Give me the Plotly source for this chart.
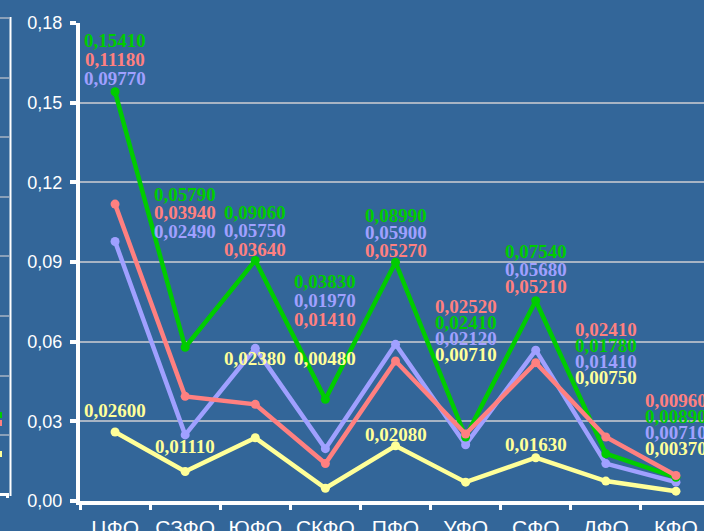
import plotly.graph_objects as go

# Federal districts and series values
categories = ["ЦФО", "СЗФО", "ЮФО", "СКФО", "ПФО", "УФО", "СФО", "ДФО", "КФО"]
green = [0.15410, 0.05790, 0.09060, 0.03830, 0.08990, 0.02410, 0.07540, 0.01780, 0.00890]
red = [0.11180, 0.03940, 0.03640, 0.01410, 0.05270, 0.02520, 0.05210, 0.02410, 0.00960]
purple = [0.09770, 0.02490, 0.05750, 0.01970, 0.05900, 0.02120, 0.05680, 0.01410, 0.00710]
yellow = [0.02600, 0.01110, 0.02380, 0.00480, 0.02080, 0.00710, 0.01630, 0.00750, 0.00370]
y_ticks = [0.00, 0.03, 0.06, 0.09, 0.12, 0.15, 0.18]

COLORS = {"g": "#00CC00", "r": "#FF8080", "p": "#A0A0FF", "y": "#FFFF99"}
VALUES = {"g": green, "r": red, "p": purple, "y": yellow}
BG = "#336699"

# Data-label stacks: order from top, top position and line step (axis units)
label_order = [
    ["g", "r", "p"], ["g", "r", "p"], ["g", "p", "r"], ["g", "p", "r"],
    ["g", "p", "r"], ["r", "g", "p", "y"], ["g", "p", "r"],
    ["r", "g", "p", "y"], ["r", "g", "p", "y"],
]
label_top = [0.1736, 0.1156, 0.1088, 0.0825, 0.1077, 0.0731, 0.0938, 0.0644, 0.0377]
label_step = [0.0073, 0.0070, 0.0070, 0.0070, 0.0066, 0.0060, 0.0066, 0.0060, 0.0060]
# separate yellow labels (None when the yellow label is in the stack)
yellow_label_y = [0.0339, 0.0207, 0.0538, 0.0538, 0.0252, None, 0.0211, None, None]

fig = go.Figure()

for key in ["y", "p", "g", "r"]:
    fig.add_trace(go.Scatter(
        x=categories, y=VALUES[key], mode="lines+markers",
        line=dict(color=COLORS[key], width=4.5),
        marker=dict(color=COLORS[key], size=9),
        showlegend=False, hoverinfo="skip",
    ))


def fmt(v):
    return f"{v:.5f}".replace(".", ",")


label_font = dict(family="Liberation Serif", size=19, weight="bold")
annotations = []
for i, cat in enumerate(categories):
    for j, key in enumerate(label_order[i]):
        annotations.append(dict(
            x=cat, y=label_top[i] - j * label_step[i], xref="x", yref="y",
            text=fmt(VALUES[key][i]), showarrow=False,
            xanchor="center", yanchor="middle",
            font=dict(color=COLORS[key], **label_font),
        ))
    if yellow_label_y[i] is not None:
        annotations.append(dict(
            x=cat, y=yellow_label_y[i], xref="x", yref="y",
            text=fmt(yellow[i]), showarrow=False,
            xanchor="center", yanchor="middle",
            font=dict(color=COLORS["y"], **label_font),
        ))

# Edge of the neighbouring legend panel on the left
W, L, T, B = 704, 80, 23, 30
PW, PH = W - L, 531 - T - B


def px(x):
    return (x - L) / PW


def py(y):
    return (531 - B - y) / PH


shapes = [dict(type="line", xref="paper", yref="paper",
               x0=px(10.5), x1=px(10.5), y0=py(17), y1=py(496),
               line=dict(color="white", width=2))]
for gy in [18, 78, 137, 197, 256, 316, 376, 435]:
    shapes.append(dict(type="line", xref="paper", yref="paper",
                       x0=px(0), x1=px(9.5), y0=py(gy), y1=py(gy),
                       line=dict(color="#A8B4C4", width=1.5)))
shapes.append(dict(type="line", xref="paper", yref="paper",
                   x0=px(0), x1=px(9), y0=py(494.5), y1=py(494.5),
                   line=dict(color="white", width=3)))
shapes.append(dict(type="rect", xref="paper", yref="paper",
                   x0=px(6), x1=px(9), y0=py(498), y1=py(493),
                   line=dict(width=0), fillcolor="white"))
for cy, key in [(415, "g"), (423, "r"), (454, "y")]:
    shapes.append(dict(type="rect", xref="paper", yref="paper",
                       x0=px(0), x1=px(2), y0=py(cy + 3), y1=py(cy - 3),
                       line=dict(width=0), fillcolor=COLORS[key]))

fig.update_layout(
    width=W, height=531,
    margin=dict(l=L, r=0, t=T, b=B),
    paper_bgcolor=BG, plot_bgcolor=BG,
    separators=", ",
    annotations=annotations,
    shapes=shapes,
    xaxis=dict(
        type="category", range=[-0.5, 8.4], automargin=False, tickangle=0,
        tickson="boundaries", ticks="outside", ticklen=5, tickwidth=3,
        tickcolor="white", showline=True, linecolor="white", linewidth=4,
        showgrid=False, tickfont=dict(family="Liberation Sans", size=21, color="white"),
        ticklabelstandoff=5,
    ),
    yaxis=dict(
        range=[0, 0.18], tickvals=y_ticks, tickformat=".2f", automargin=False,
        ticks="outside", ticklen=6, tickwidth=4, tickcolor="white",
        showline=True, linecolor="white", linewidth=4,
        showgrid=True, gridcolor="#A8B4C4", gridwidth=1.5, zeroline=False,
        tickfont=dict(family="Liberation Sans", size=18, color="white"),
        ticklabelstandoff=4,
    ),
)

fig.write_html("out.html")
